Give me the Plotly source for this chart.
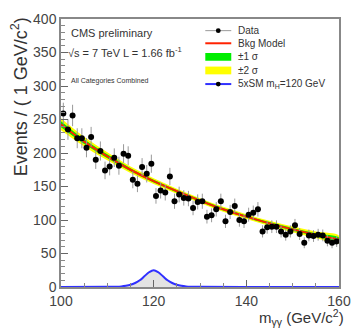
import numpy as np
import plotly.graph_objects as go

# ---- data ----
mass = [100.5 + i for i in range(60)]
events = [259, 235, 256, 222, 222, 208, 224, 190, 203, 174,
          180, 193, 181, 199, 196, 160, 154, 179, 169, 184,
          136, 144, 141, 165, 128, 138, 133, 132, 118, 127,
          128, 105, 107, 116, 128, 98, 112, 121, 100, 98,
          108, 111, 116, 83, 89, 90, 90, 83, 78, 83,
          92, 79, 66, 77, 76, 78, 77, 69, 66, 68]
errors = list(np.sqrt(events))

bkg_mass = [100, 105, 110, 115, 120, 125, 130, 135, 140, 145, 150, 155, 160]
bkg_val = [243, 217, 195, 175, 158, 143, 129, 116, 105, 95, 86, 78, 71]
band1 = [4.5, 3.6, 3.0, 2.4, 2.1, 1.9, 1.8, 1.8, 1.8, 1.9, 2.1, 2.4, 2.8]
band2 = [9, 7.2, 6.0, 4.8, 4.2, 3.8, 3.6, 3.6, 3.6, 3.8, 4.2, 4.8, 5.6]

sig_mass = [100, 110, 112, 113, 114, 115, 116, 117, 118, 119, 120,
            121, 122, 123, 124, 125, 126, 127, 128, 130, 140, 160]
sig_val = [0, 0.2, 0.5, 0.9, 1.8, 3.3, 6, 10, 16, 22, 25,
           22, 16, 10, 6, 3.3, 1.8, 0.9, 0.5, 0.2, 0, 0]

xticks = [100, 120, 140, 160]
yticks = [0, 50, 100, 150, 200, 250, 300, 350, 400]

FONT = "Liberation Sans, Arial, sans-serif"
TXT = "#333333"

fig = go.Figure()

bm = np.array(bkg_mass, dtype=float)
bv = np.array(bkg_val, dtype=float)
b1 = np.array(band1)
b2 = np.array(band2)

# +-2 sigma band
fig.add_trace(go.Scatter(x=list(bm) + list(bm[::-1]), y=list(bv + b2) + list((bv - b2)[::-1]),
                         fill="toself", fillcolor="#ffff00", line=dict(width=0, shape="spline"),
                         mode="lines", hoverinfo="skip", showlegend=False))
# +-1 sigma band
fig.add_trace(go.Scatter(x=list(bm) + list(bm[::-1]), y=list(bv + b1) + list((bv - b1)[::-1]),
                         fill="toself", fillcolor="#00ee00", line=dict(width=0, shape="spline"),
                         mode="lines", hoverinfo="skip", showlegend=False))
# background model
fig.add_trace(go.Scatter(x=bkg_mass, y=bkg_val, mode="lines",
                         line=dict(color="#ff2200", width=2, shape="spline"), showlegend=False))
# signal
fig.add_trace(go.Scatter(x=sig_mass, y=sig_val, mode="lines", fill="tozeroy",
                         fillcolor="rgba(200,200,200,0.5)",
                         line=dict(color="#3030ff", width=2, shape="spline"), showlegend=False))
# data
fig.add_trace(go.Scatter(x=mass, y=events, mode="markers",
                         marker=dict(color="black", size=6),
                         error_y=dict(type="data", array=errors, color="#999999", thickness=1, width=0),
                         showlegend=False))

fig.update_layout(
    width=362, height=331,
    margin=dict(l=61, r=11, t=11, b=44),
    paper_bgcolor="white", plot_bgcolor="white",
    font=dict(family=FONT, color=TXT, size=12),
    xaxis=dict(range=[100, 160], tickvals=xticks, ticks="inside", ticklen=7,
               tickcolor="#666", showline=True, linecolor="#888", linewidth=1.5, mirror=True,
               showgrid=False, zeroline=False, tickfont=dict(size=14, color="#444"),
               minor=dict(dtick=5, ticks="inside", ticklen=4, tickcolor="#888")),
    yaxis=dict(range=[0, 400], tickvals=yticks, ticks="inside", ticklen=7,
               tickcolor="#666", showline=True, linecolor="#888", linewidth=1.5, mirror=True,
               showgrid=False, zeroline=False, tickfont=dict(size=14, color="#444"),
               minor=dict(dtick=10, ticks="inside", ticklen=4, tickcolor="#888")),
)

def px(x):
    return (x - 61) / 289.0

def py(y):
    return (287 - y) / 276.0

ann = []
ann.append(dict(x=px(69), y=py(25), text="CMS preliminary", font=dict(size=11, color=TXT)))
ann.append(dict(x=px(66), y=py(45), text="\u221As = 7 TeV L = 1.66 fb<sup>-1</sup>", font=dict(size=11, color=TXT)))
ann.append(dict(x=px(69), y=py(75), text="All Categories Combined", font=dict(size=7, color=TXT)))
# legend text
leg_items = ["Data", "Bkg Model", "\u00b11 \u03c3", "\u00b12 \u03c3", "5xSM m<sub>H</sub>=120 GeV"]
leg_y = [23, 36, 50, 64, 78]
for t, yy in zip(leg_items, leg_y):
    ann.append(dict(x=px(243), y=py(yy), text=t, font=dict(size=10, color=TXT)))
for a in ann:
    a.update(xref="paper", yref="paper", xanchor="left", yanchor="middle", showarrow=False)
# axis titles
ann.append(dict(x=px(357), y=py(331), xref="paper", yref="paper", xanchor="right", yanchor="bottom",
                showarrow=False, text="m<sub>\u03b3\u03b3</sub> (GeV/c<sup>2</sup>)",
                font=dict(size=15, color=TXT)))
ann.append(dict(x=px(18), y=py(7), xref="paper", yref="paper", xanchor="center", yanchor="top",
                showarrow=False, textangle=-90, text="Events / ( 1 GeV/c<sup>2</sup>)",
                font=dict(size=18, color=TXT)))
fig.update_layout(annotations=ann)

# legend symbols
shapes = []
def line_sample(yy, color, width):
    shapes.append(dict(type="line", xref="paper", yref="paper", x0=px(211), x1=px(238),
                       y0=py(yy), y1=py(yy), line=dict(color=color, width=width)))
def box_sample(yy, color):
    shapes.append(dict(type="rect", xref="paper", yref="paper", x0=px(211), x1=px(238),
                       y0=py(yy - 4), y1=py(yy + 4), fillcolor=color, line=dict(width=0)))
def dot_sample(yy):
    shapes.append(dict(type="circle", xref="paper", yref="paper", x0=px(222), x1=px(227),
                       y0=py(yy - 2.5), y1=py(yy + 2.5), fillcolor="black", line=dict(width=0)))
line_sample(23, "#999999", 1)
dot_sample(23)
line_sample(36, "#ff2200", 2)
box_sample(50, "#00ee00")
box_sample(64, "#ffff00")
line_sample(78, "#3030ff", 2)
dot_sample(78)
fig.update_layout(shapes=shapes)

fig.write_html("out.html")
